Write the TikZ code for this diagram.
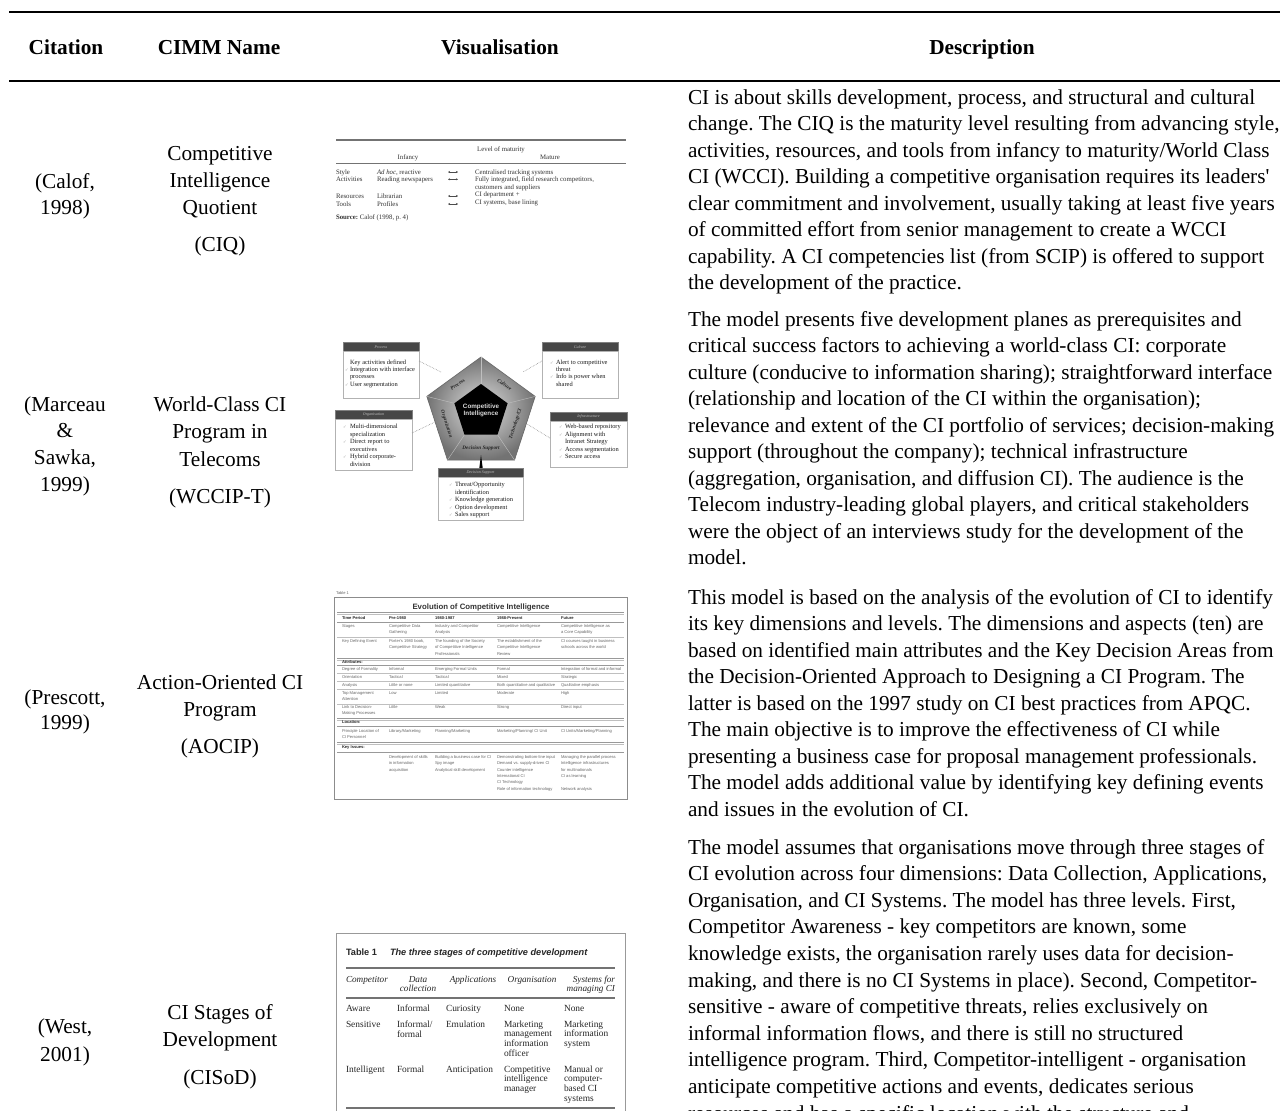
\documentclass[tikz,border=0pt]{standalone}
\usepackage{fontspec}
\setmainfont{Liberation Serif}
\newfontfamily\lsans{Liberation Sans}
\newfontfamily\dvs{DejaVu Sans}
\usetikzlibrary{arrows.meta}
\frenchspacing
\newcounter{tn}
\newcommand\mklines[5]{\foreach \lineT [count=\i from 0] in {#5}{\stepcounter{tn}\node[#1] (t\the\value{tn}) at (#2,{#3+#4*\i}) {\lineT};}}
\tikzset{
  every node/.style={inner sep=0pt, outer sep=0pt},
  body/.style={font=\fontsize{21.3}{26.5}\selectfont, anchor=base},
  bodyl/.style={font=\fontsize{21.3}{26.5}\selectfont, anchor=base west},
  headtxt/.style={font=\fontsize{21.3}{26.5}\selectfont\bfseries, anchor=base},
  mainrule/.style={line width=2.4pt},
  ciq/.style={font=\fontsize{6.8}{7.5}\selectfont, text=black!80, anchor=base west},
  ciqc/.style={font=\fontsize{6.8}{7.5}\selectfont, text=black!80, anchor=base},
  ciqrule/.style={draw=black!55, line width=1.4pt},
  wtxt/.style={font=\fontsize{6.4}{7.5}\selectfont, text=black!90, anchor=base west},
  wchk/.style={font=\dvs\fontsize{4.2}{5}\selectfont, text=black!35, anchor=base west},
  wbar/.style={fill=black!72, draw=black!50, line width=0.3pt, minimum height=9.5pt, anchor=north west, font=\fontsize{4}{4}\selectfont\itshape, text=black!25},
  wbody/.style={draw=black!30, line width=0.5pt, fill=white, anchor=north west},
  wconn/.style={densely dotted, draw=black!45, line width=0.6pt},
  ringlab/.style={font=\fontsize{5.2}{6}\selectfont\itshape\bfseries, text=black!85},
  ao/.style={font=\lsans\fontsize{4.1}{5}\selectfont, text=black!60, anchor=base west},
  aob/.style={font=\lsans\bfseries\fontsize{4.1}{5}\selectfont, text=black!85, anchor=base west},
  aothin/.style={draw=black!25, line width=0.5pt},
  aothick/.style={draw=black!40, line width=0.9pt},
  cs/.style={font=\fontsize{9.4}{9.8}\selectfont, text=black!85, anchor=base west},
  csh/.style={font=\fontsize{9.2}{9.8}\selectfont\itshape, text=black!85},
  csrule/.style={draw=black!55, line width=1.6pt},
}
\begin{document}
\begin{tikzpicture}[x=1pt, y=-1pt]
\fill[white] (0,0) rectangle (1280,1111);
\useasboundingbox (0,0) rectangle (1280,1111);

% ---------- header ----------
\draw[mainrule] (9,12) -- (1280,12);
\draw[mainrule] (9,81) -- (1280,81);
\node[headtxt] (hcit) at (66,54) {Citation};
\node[headtxt] (hname) at (219,54) {CIMM Name};
\node[headtxt] (hvis) at (500,54) {Visualisation};
\node[headtxt] (hdesc) at (982,54) {Description};

% ---------- left columns ----------
\mklines{body}{65}{188}{26}{{(Calof,},{1998)}}
\mklines{body}{220}{160}{27}{{Competitive},{Intelligence},{Quotient}}
\node[body] (n1) at (220,251) {(CIQ)};

\mklines{body}{65}{411}{26.7}{{(Marceau},{\&},{Sawka,},{1999)}}
\mklines{body}{220}{411}{27.5}{{World-Class CI},{Program in},{Telecoms}}
\node[body] (n2) at (220,503) {(WCCIP-T)};

\mklines{body}{65}{704}{25.5}{{(Prescott,},{1999)}}
\mklines{body}{220}{689}{27}{{Action-Oriented CI},{Program}}
\node[body] (n3) at (220,753) {(AOCIP)};

\mklines{body}{65}{1033}{28}{{(West,},{2001)}}
\mklines{body}{220}{1019}{27}{{CI Stages of},{Development}}
\node[body] (n4) at (220,1084) {(CISoD)};

% ---------- descriptions ----------
\mklines{bodyl}{688}{104}{26.5}{{CI is about skills development, process, and structural and cultural},{change. The CIQ is the maturity level resulting from advancing style,},{activities, resources, and tools from infancy to maturity/World Class},{CI (WCCI). Building a competitive organisation requires its leaders\textquotesingle},{clear commitment and involvement, usually taking at least five years},{of committed effort from senior management to create a WCCI},{capability. A CI competencies list (from SCIP) is offered to support},{the development of the practice.}}

\mklines{bodyl}{688}{326}{26.5}{{The model presents five development planes as prerequisites and},{critical success factors to achieving a world-class CI: corporate},{culture (conducive to information sharing); straightforward interface},{(relationship and location of the CI within the organisation);},{relevance and extent of the CI portfolio of services; decision-making},{support (throughout the company); technical infrastructure},{(aggregation, organisation, and diffusion CI). The audience is the},{Telecom industry-leading global players, and critical stakeholders},{were the object of an interviews study for the development of the},{model.}}

\mklines{bodyl}{688}{604}{26.5}{{This model is based on the analysis of the evolution of CI to identify},{its key dimensions and levels. The dimensions and aspects (ten) are},{based on identified main attributes and the Key Decision Areas from},{the Decision-Oriented Approach to Designing a CI Program. The},{latter is based on the 1997 study on CI best practices from APQC.},{The main objective is to improve the effectiveness of CI while},{presenting a business case for proposal management professionals.},{The model adds additional value by identifying key defining events},{and issues in the evolution of CI.}}

\mklines{bodyl}{688}{854}{26.6}{{The model assumes that organisations move through three stages of},{CI evolution across four dimensions: Data Collection, Applications,},{Organisation, and CI Systems. The model has three levels. First,},{Competitor Awareness - key competitors are known, some},{knowledge exists, the organisation rarely uses data for decision-},{making, and there is no CI Systems in place). Second, Competitor-},{sensitive - aware of competitive threats, relies exclusively on},{informal information flows, and there is still no structured},{intelligence program. Third, Competitor-intelligent - organisation},{anticipate competitive actions and events, dedicates serious},{resources and has a specific location with the structure and}}

% ---------- thumbnail 1: CIQ ----------
\draw[ciqrule] (336,140) -- (626,140);
\node[ciqc] (q0) at (501,151.3) {Level of maturity};
\node[ciqc] (q1) at (408,159.3) {Infancy};
\node[ciqc] (q2) at (550,159.3) {Mature};
\draw[ciqrule, line width=1pt] (336,163) -- (626,163);
\mklines{ciq}{336}{174.3}{7.3}{{Style},{Activities}}
\mklines{ciq}{336}{198.3}{8}{{Resources},{Tools}}
\mklines{ciq}{377}{174.3}{7.3}{{\textit{Ad hoc}, reactive},{Reading newspapers}}
\mklines{ciq}{377}{198.3}{8}{{Librarian},{Profiles}}
\mklines{ciq}{475}{174.3}{7.5}{{Centralised tracking systems},{Fully integrated, field research competitors,},{customers and suppliers},{CI department +},{CI systems, base lining}}
\foreach \yy [count=\k] in {172,179.3,196,204}{
  \coordinate (al\k) at (448,\yy); \coordinate (ar\k) at (458,\yy);
  \draw[black!70, line width=0.4pt, {Stealth[length=2pt,width=2pt]}-{Stealth[length=2pt,width=2pt]}] (al\k) -- (ar\k);}
\node[ciq] (qsrc) at (336,219.3) {\textbf{Source:} Calof (1998, p. 4)};

% ---------- thumbnail 2: WCCIP-T pentagon ----------
\coordinate (P1) at (481,357); \coordinate (P2) at (426.8,396.4); \coordinate (P3) at (447.5,460.1);
\coordinate (P4) at (514.5,460.1); \coordinate (P5) at (535.2,396.4);
\coordinate (Q1) at (481,384); \coordinate (Q2) at (454.4,403.3); \coordinate (Q3) at (464.5,434.7);
\coordinate (Q4) at (497.5,434.7); \coordinate (Q5) at (507.6,403.3);
\shade[inner color=black!12, outer color=black!55] (P1)--(P2)--(P3)--(P4)--(P5)--cycle;
\draw[black!60, line width=0.6pt] (P1)--(P2)--(P3)--(P4)--(P5)--cycle;
\foreach \k in {1,...,5} \draw[black!25, line width=0.4pt] (P\k) -- (Q\k);
\fill[black] (Q1)--(Q2)--(Q3)--(Q4)--(Q5)--cycle;
\node[font=\lsans\bfseries\fontsize{6.3}{7}\selectfont, text=white!85!black, align=center] (ci) at (481,410.5) {Competitive\\Intelligence};
\node[ringlab, rotate=36] (rl1) at (457.5,384.5) {Process};
\node[ringlab, rotate=-36] (rl2) at (504.5,384.5) {Culture};
\node[ringlab, rotate=-72] (rl3) at (446.5,424) {Organisation};
\node[ringlab, rotate=72] (rl4) at (515.5,424) {Technology/CI};
\node[ringlab] (rl5) at (481,448) {Decision Support};

% boxes
\node[wbar, minimum width=76pt] (tlh) at (343,342) {Process};
\node[wbody, minimum width=76pt, minimum height=47pt] (tlb) at (343,351.5) {};
\node[wbar, minimum width=76pt] (trh) at (542,342) {Culture};
\node[wbody, minimum width=76pt, minimum height=47pt] (trb) at (542,351.5) {};
\node[wbar, minimum width=77pt] (lh) at (335,410) {Organisation};
\node[wbody, minimum width=77pt, minimum height=51pt] (lb) at (335,419.5) {};
\node[wbar, minimum width=77pt] (rh) at (550,412) {Infrastructure};
\node[wbody, minimum width=77pt, minimum height=46pt] (rb) at (550,421.5) {};
\node[wbar, minimum width=85pt] (bh) at (438,468) {Decision Support};
\node[wbody, minimum width=85pt, minimum height=43pt] (bb) at (438,477.5) {};

\mklines{wtxt}{350}{364}{7.4}{{Key activities defined},{Integration with interface},{processes},{User segmentation}}
\mklines{wchk}{345}{371.5}{14.8}{{✓},{✓}}
\mklines{wtxt}{556}{364}{7.4}{{Alert to competitive},{threat},{Info is power when},{shared}}
\mklines{wchk}{550}{364}{14.8}{{✓},{✓}}
\mklines{wtxt}{350}{428.5}{7.6}{{Multi-dimensional},{specialization},{Direct report to},{executives},{Hybrid corporate-},{division}}
\mklines{wchk}{343}{428.5}{15.2}{{✓},{✓},{✓}}
\mklines{wtxt}{565}{428.5}{7.6}{{Web-based repository},{Alignment with},{Intranet Strategy},{Access segmentation},{Secure access}}
\mklines{wchk}{559}{428.5}{7.6}{{✓},{✓},{},{✓},{✓}}
\mklines{wtxt}{455}{486.5}{7.5}{{Threat/Opportunity},{identification},{Knowledge generation},{Option development},{Sales support}}
\mklines{wchk}{449}{486.5}{7.5}{{✓},{},{✓},{✓},{✓}}

% connectors
\coordinate (ctl1) at (419,361); \coordinate (ctl2) at (441,372);
\coordinate (ctr1) at (542,361); \coordinate (ctr2) at (523,372);
\coordinate (cl1) at (412,433); \coordinate (cl2) at (435,422);
\coordinate (cr1) at (550,438); \coordinate (cr2) at (527,424);
\draw[wconn] (ctl1) -- (ctl2);
\draw[wconn] (ctr1) -- (ctr2);
\draw[wconn] (cl1) -- (cl2);
\draw[wconn] (cr1) -- (cr2);
\coordinate (sp1) at (481,455);
\fill[black] (479.3,468) -- (sp1) -- (482.7,468) -- cycle;

% ---------- thumbnail 3: AOCIP ----------
\node[ao, font=\lsans\fontsize{4}{5}\selectfont] (atab) at (336,594) {Table 1};
\draw[draw=black!45, line width=0.8pt] (334,597) rectangle (627,799);
\node[font=\lsans\bfseries\fontsize{7.8}{8}\selectfont, text=black!80, anchor=base] (atitle) at (481,609) {Evolution of Competitive Intelligence};
\draw[aothick] (337,612) -- (624,612);
\draw[aothin] (337,614.5) -- (624,614.5);
\node[aob] (ah1) at (342,619.2) {Time Period};
\node[aob] (ah2) at (389,619.2) {Pre-1980};
\node[aob] (ah3) at (435,619.2) {1980-1987};
\node[aob] (ah4) at (497,619.2) {1988-Present};
\node[aob] (ah5) at (561,619.2) {Future};
\draw[aothick] (337,622) -- (624,622);
% stages
\mklines{ao}{342}{627.5}{6.3}{{Stages}}
\mklines{ao}{389}{627.5}{6.3}{{Competitive Data},{Gathering}}
\mklines{ao}{435}{627.5}{6.3}{{Industry and Competitor},{Analysis}}
\mklines{ao}{497}{627.5}{6.3}{{Competitive Intelligence}}
\mklines{ao}{561}{627.5}{6.3}{{Competitive Intelligence as},{a Core Capability}}
\draw[aothin] (337,637) -- (624,637);
\mklines{ao}{342}{642.5}{6.3}{{Key Defining Event}}
\mklines{ao}{389}{642.5}{6.3}{{Porter's 1980 book,},{Competitive Strategy}}
\mklines{ao}{435}{642.5}{6.3}{{The founding of the Society},{of Competitive Intelligence},{Professionals}}
\mklines{ao}{497}{642.5}{6.3}{{The establishment of the},{Competitive Intelligence},{Review}}
\mklines{ao}{561}{642.5}{6.3}{{CI courses taught in business},{schools across the world}}
\draw[aothick] (337,658) -- (624,658);
\draw[aothin] (337,660) -- (624,660);
\node[aob] (aattr) at (342,663.2) {Attributes:};
\draw[aothick] (337,665.5) -- (624,665.5);
% attributes
\mklines{ao}{342}{670.5}{8}{{Degree of Formality},{Orientation},{Analysis},{Top Management}}
\mklines{ao}{389}{670.5}{8}{{Informal},{Tactical},{Little or none},{Low}}
\mklines{ao}{435}{670.5}{8}{{Emerging Formal Units},{Tactical},{Limited quantitative},{Limited}}
\mklines{ao}{497}{670.5}{8}{{Formal},{Mixed},{Both quantitative and qualitative},{Moderate}}
\mklines{ao}{561}{670.5}{8}{{Integration of formal and informal},{Strategic},{Qualitative emphasis},{High}}
\node[ao] (atma) at (342,700.8) {Attention};
\foreach \yy in {673.5,681.5,689.5,704}{\draw[aothin] (337,\yy) -- (624,\yy);}
\mklines{ao}{342}{708.5}{6.3}{{Link to Decision-},{Making Processes}}
\node[ao] (al2) at (389,708.5) {Little};
\node[ao] (al3) at (435,708.5) {Weak};
\node[ao] (al4) at (497,708.5) {Strong};
\node[ao] (al5) at (561,708.5) {Direct input};
\draw[aothick] (337,718) -- (624,718);
\draw[aothin] (337,720) -- (624,720);
\node[aob] (aloc) at (342,723.5) {Location:};
\draw[aothick] (337,726.5) -- (624,726.5);
\mklines{ao}{342}{732.5}{6.3}{{Principle Location of},{CI Personnel}}
\node[ao] (ap2) at (389,732.5) {Library/Marketing};
\node[ao] (ap3) at (435,732.5) {Planning/Marketing};
\node[ao] (ap4) at (497,732.5) {Marketing/Planning/ CI Unit};
\node[ao] (ap5) at (561,732.5) {CI Units/Marketing/Planning};
\draw[aothick] (337,742) -- (624,742);
\draw[aothin] (337,744) -- (624,744);
\node[aob] (akey) at (342,748.5) {Key Issues:};
\draw[aothick] (337,752) -- (624,752);
\mklines{ao}{389}{758.5}{6.3}{{Development of skills},{in information},{acquisition}}
\mklines{ao}{435}{758.5}{6.3}{{Building a business case for CI},{Spy image},{Analytical skill development}}
\mklines{ao}{497}{758.5}{6.3}{{Demonstrating bottom-line input},{Demand vs. supply-driven CI},{Counter intelligence},{International CI},{CI Technology},{Role of information technology}}
\mklines{ao}{561}{758.5}{6.3}{{Managing the parallel process},{Intelligence infrastructures},{for multinationals},{CI as learning},{},{Network analysis}}

% ---------- thumbnail 4: CISoD ----------
\draw[draw=black!40, line width=0.8pt] (336,1125) -- (336,933) -- (625,933) -- (625,1125);
\node[font=\lsans\bfseries\fontsize{9.2}{10}\selectfont, text=black!85, anchor=base west] (ct1) at (346,955.5) {Table 1};
\node[font=\lsans\bfseries\itshape\fontsize{9.2}{10}\selectfont, text=black!85, anchor=base west] (ct2) at (390,955.5) {The three stages of competitive development};
\draw[csrule] (346,968) -- (615,968);
\node[csh, anchor=base west] (ch1) at (346,982) {Competitor};
\mklines{csh, anchor=base}{418}{982}{9.5}{{Data},{collection}}
\node[csh, anchor=base] (ch3) at (473,982) {Applications};
\node[csh, anchor=base] (ch4) at (532,982) {Organisation};
\mklines{csh, anchor=base east}{615}{982}{9.5}{{Systems for},{managing CI}}
\draw[csrule] (346,998) -- (615,998);
\mklines{cs}{346}{1011}{16}{{Aware},{Sensitive}}
\node[cs] (cr3) at (346,1072) {Intelligent};
\mklines{cs}{397}{1011}{16}{{Informal},{Informal/}}
\node[cs] (cfo) at (397,1037) {formal};
\node[cs] (cfor) at (397,1072) {Formal};
\mklines{cs}{446}{1011}{16}{{Curiosity},{Emulation}}
\node[cs] (cant) at (446,1072) {Anticipation};
\node[cs] (cno1) at (504,1011) {None};
\mklines{cs}{504}{1027}{9.7}{{Marketing},{management},{information},{officer}}
\mklines{cs}{504}{1072}{9.7}{{Competitive},{intelligence},{manager}}
\node[cs] (cno2) at (564,1011) {None};
\mklines{cs}{564}{1027}{9.7}{{Marketing},{information},{system}}
\mklines{cs}{564}{1072}{9.7}{{Manual or},{computer-},{based CI},{systems}}
\draw[csrule] (346,1108) -- (615,1108);
\end{tikzpicture}
\end{document}
